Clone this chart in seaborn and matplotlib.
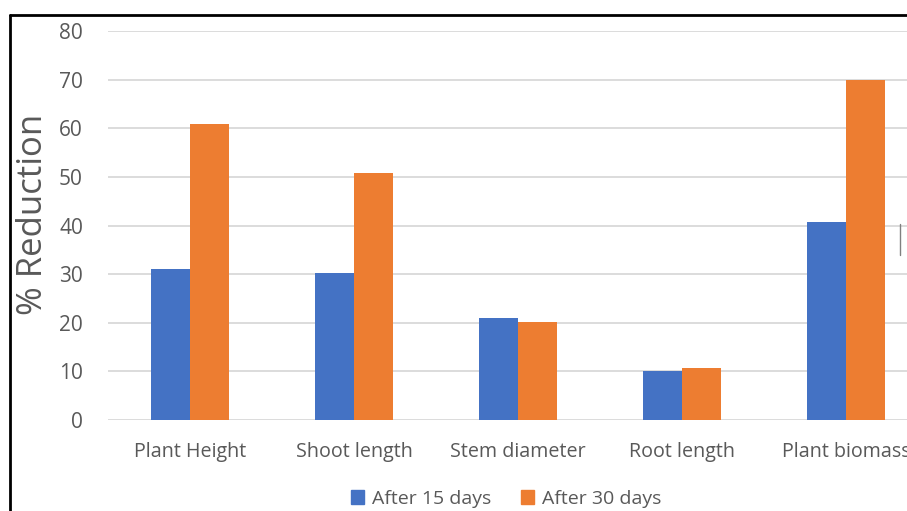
import matplotlib
matplotlib.use("Agg")
import matplotlib.pyplot as plt
import seaborn as sns
import pandas as pd
from matplotlib.lines import Line2D

categories = ["Plant Height", "Shoot length", "Stem diameter", "Root length", "Plant biomass"]
after_15 = [31, 30.3, 21, 10, 40.8]
after_30 = [61, 50.8, 20.1, 10.8, 70]
series_names = ["After 15 days", "After 30 days"]
yticks = [0, 10, 20, 30, 40, 50, 60, 70, 80]

df = pd.DataFrame({
    "cat": categories * 2,
    "val": after_15 + after_30,
    "series": [series_names[0]] * len(categories) + [series_names[1]] * len(categories),
})

sns.set_theme(style="white")
plt.rcParams["font.family"] = ["Open Sans", "DejaVu Sans"]

fig = plt.figure(figsize=(9.07, 5.11), dpi=100)
ax = fig.add_axes([108 / 907, 0.178, 1 - 108 / 907, 0.761])

palette = {series_names[0]: "#4472C4", series_names[1]: "#ED7D31"}
sns.barplot(data=df, x="cat", y="val", hue="series", palette=palette,
            width=0.476, gap=0, saturation=1, ax=ax, legend=False, zorder=3,
            linewidth=0)

ax.set_ylim(0, 80)
ax.set_xlim(-0.5, (907 - 190) / 164)
ax.set_yticks(yticks)
ax.set_yticklabels([str(v) for v in yticks])
ax.yaxis.grid(True, color="#D9D9D9", linewidth=1.3, zorder=0)
ax.set_axisbelow(True)
for s in ax.spines.values():
    s.set_visible(False)
ax.tick_params(axis="both", length=0, colors="#595959")
ax.tick_params(axis="y", pad=18, labelsize=15)
ax.tick_params(axis="x", pad=16, labelsize=14.2)
ax.set_xlabel("")
ax.set_ylabel("% Reduction", fontsize=25, color="#595959")
ax.yaxis.set_label_coords(-0.073, 0.53)

handles = [plt.Rectangle((0, 0), 1, 1, color=palette[n]) for n in series_names]
fig.legend(handles, series_names, loc="center", bbox_to_anchor=(0.558, 0.024),
           ncol=2, frameon=False, fontsize=14, handlelength=0.7, handleheight=0.7,
           handletextpad=0.4, columnspacing=1.5, labelcolor="#595959")

# frame lines (border of original screenshot)
fig.add_artist(Line2D([10 / 907, 1], [1 - 15 / 511, 1 - 15 / 511], color="black", linewidth=2, transform=fig.transFigure))
fig.add_artist(Line2D([10 / 907, 10 / 907], [0, 1 - 15 / 511], color="black", linewidth=2, transform=fig.transFigure))
fig.add_artist(Line2D([900 / 907, 900 / 907], [1 - 224 / 511, 1 - 255 / 511], color="#808080", linewidth=1, transform=fig.transFigure))

fig.savefig("out.png", dpi=100)
